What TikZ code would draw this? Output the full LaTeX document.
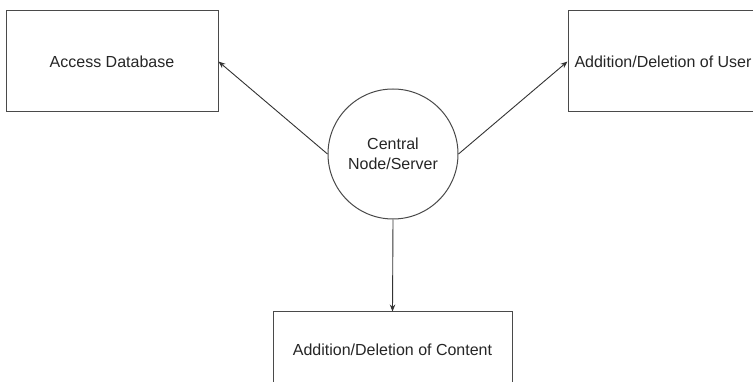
\documentclass[tikz,border=0pt]{standalone}
\usepackage{fontspec}
\setmainfont{Liberation Sans}
\usetikzlibrary{arrows.meta}
\definecolor{edgecol}{HTML}{333333}
\definecolor{boxcol}{HTML}{4A4A4A}
\tikzset{
  box/.style={draw=boxcol, line width=1pt, rectangle, inner sep=0pt, fill=white,
    font=\fontsize{16}{20}\selectfont, text=black!85},
  hub/.style={draw=boxcol, line width=1pt, circle, inner sep=0pt, minimum size=130pt,
    align=center, font=\fontsize{16}{20}\selectfont, text=black!85},
  link/.style={draw=edgecol, line width=0.9pt, -{Stealth[length=7pt,width=5.5pt]}}
}
\begin{document}
\begin{tikzpicture}[x=1pt,y=-1pt]
\useasboundingbox (0,0) rectangle (753,382);
\clip (0,0) rectangle (753,382);
\fill[white] (0,0) rectangle (753,382);
\node[box, minimum width=212pt, minimum height=101pt] (acc) at (112,61.5) {Access Database};
\node[box, minimum width=190pt, minimum height=101pt] (usr) at (663,61.5) {Addition/Deletion of User};
\node[box, minimum width=239pt, minimum height=76pt] (cnt) at (392.5,350) {Addition/Deletion of Content};
\node[hub] (hub) at (393,154) {Central\\Node/Server};
\draw[link] (hub.west) -- (acc.east);
\draw[link] (hub.east) -- (usr.west);
\draw[link] (hub.south) -- (cnt.north);
\end{tikzpicture}
\end{document}
